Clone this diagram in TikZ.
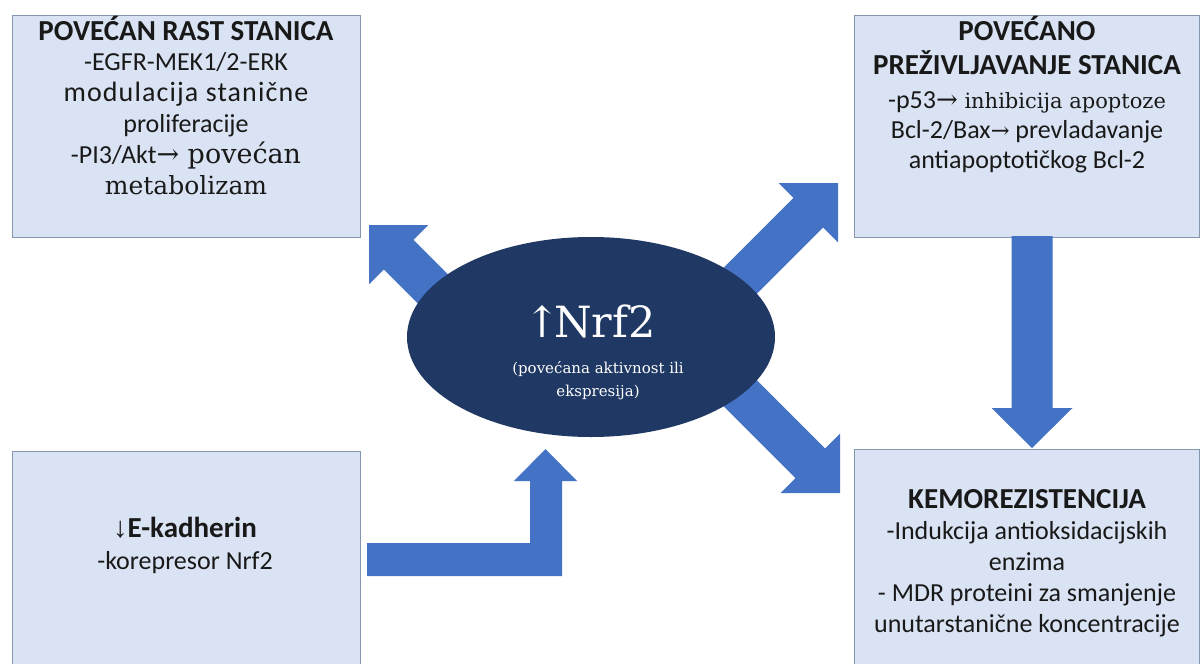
\documentclass[tikz,border=0pt]{standalone}
\usepackage{fontspec}
\setmainfont{DejaVu Serif}
\setsansfont{Carlito}
\newfontfamily\arrowsans{Liberation Sans}
\usetikzlibrary{calc}
\definecolor{boxfill}{RGB}{218,227,243}
\definecolor{boxline}{RGB}{132,151,176}
\definecolor{arrowblue}{RGB}{68,114,196}
\definecolor{navy}{RGB}{31,56,100}
\def\blockarrow(#1)(#2:#3:#4:#5:#6){\fill[arrowblue,shift={(#1)},rotate=#2] (0,0) -- (-#6,#5) -- (-#6,#4) -- (-#3,#4) -- (-#3,-#4) -- (-#6,-#4) -- (-#6,-#5) -- cycle;}
\def\serifword#1#2{{\rmfamily\fontsize{#1}{30}\selectfont #2}}
\def\headline#1{{\bfseries\fontsize{29}{30}\selectfont #1}}
\tikzset{
	box/.style={fill=boxfill, draw=boxline, line width=1pt},
	txt/.style={font=\sffamily\fontsize{26}{30.8}\selectfont, align=center, inner sep=0pt, anchor=base, text=black!90}
}

\begin{document}
\begin{tikzpicture}[x=1pt, y=-1pt]
			%%%%% START %%%%%
			
			\useasboundingbox (0, 0) rectangle (1200, 664);
			\clip (0, 0) rectangle (1200, 664);
			\fill[white] (0, 0) rectangle (1200, 664);
			
			\draw[box] (12, 15) rectangle (360, 237);
			\draw[box] (854, 15) rectangle (1199, 237);
			\draw[box] (12, 451) rectangle (360, 680);
			\draw[box] (854, 449) rectangle (1199, 680);
			
			\blockarrow(369, 225)(135:130:21:42:42)
			\blockarrow(838, 183)(45:150:21:42:42)
			\blockarrow(840, 493)(-45:170:21:42:42)
			\blockarrow(1032, 448)(-90:212:20.5:40.5:40)
			
			\fill[arrowblue] (367, 543) -- (530, 543) -- (530, 481) -- (514, 481) -- (545.5, 449)
				-- (577, 481) -- (562, 481) -- (562, 576) -- (367, 576) -- cycle;
			
			\fill[navy] (591, 337) ellipse [x radius=184pt, y radius=100pt];
			
			% texts, anchored at the baseline of their last line
			\node[txt] (rast) at (186, 194) {\headline{POVEĆAN RAST STANICA}\\ -EGFR-MEK1/2-ERK\\ {\fontsize{28}{30.8}\selectfont\addfontfeatures{LetterSpace=4}modulacija stanične}\\ proliferacije\\ -PI3/Akt\serifword{27}{→ povećan}\\ \serifword{25}{metabolizam}};
			\node[txt, font=\sffamily\fontsize{26}{30}\selectfont] (prezivljavanje) at (1027, 168) {\headline{POVEĆANO}\\[4pt] \headline{PREŽIVLJAVANJE STANICA}\\[4pt] -p53\serifword{26}{→}\serifword{21}{ inhibicija apoptoze}\\ Bcl-2/Bax\serifword{22.5}{→} prevladavanje\\ antiapoptotičkog Bcl-2};
			\node[txt, font=\sffamily\fontsize{26}{32}\selectfont] (kadherin) at (185, 569) {{\arrowsans\bfseries\fontsize{29}{32}\selectfont ↓}\headline{E-kadherin}\\ -korepresor Nrf2};
			\node[txt, font=\sffamily\fontsize{26}{31}\selectfont] (kemo) at (1027, 632) {\headline{KEMOREZISTENCIJA}\\ -Indukcija antioksidacijskih\\ enzima\\ - MDR proteini za smanjenje\\ unutarstanične koncentracije};
			
			\node[txt, font=\rmfamily\fontsize{43}{43}\selectfont, text=white] (nrf) at (590, 337) {↑\kern-6pt Nrf2};
			\node[txt, font=\rmfamily\fontsize{15}{23}\selectfont, text=white] (aktivnost) at (598, 396) {(povećana aktivnost ili\\ ekspresija)};
			
			%%%%% END %%%%%
		\end{tikzpicture}
\end{document}
